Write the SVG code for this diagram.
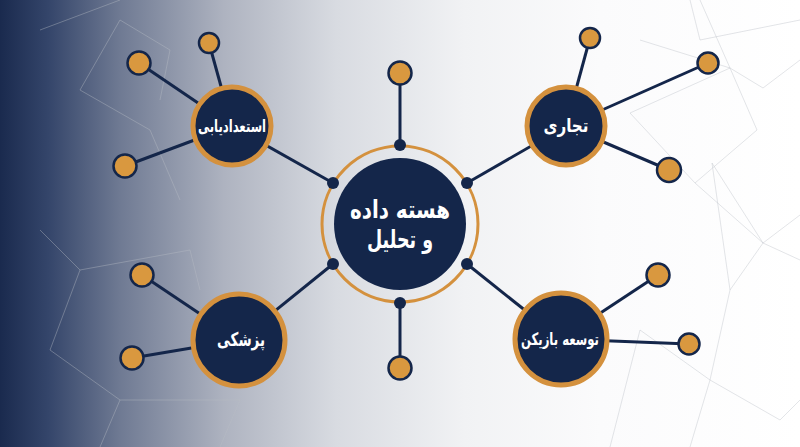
<svg xmlns="http://www.w3.org/2000/svg" width="800" height="447" viewBox="0 0 800 447">
<defs>
<linearGradient id="bg" x1="0" y1="0" x2="1" y2="0">
<stop offset="0" stop-color="#1a2a4e"/>
<stop offset="0.06" stop-color="#34456a"/>
<stop offset="0.15" stop-color="#6f7a93"/>
<stop offset="0.28" stop-color="#aeb3c0"/>
<stop offset="0.42" stop-color="#d8dbe1"/>
<stop offset="0.58" stop-color="#f1f2f4"/>
<stop offset="0.75" stop-color="#fbfbfc"/>
<stop offset="1" stop-color="#ffffff"/>
</linearGradient>
<style>
.bgl{stroke:#b9bdc6;stroke-opacity:0.4;stroke-width:1;fill:none}
.con{stroke:#14264a;stroke-width:3;fill:none}
.leaf{fill:#d9983f;stroke:#14264a;stroke-width:2.5}
.dot{fill:#14264a}
.node{fill:#14264a;stroke:#d4913e;stroke-width:5}
.lbl{font-family:"DejaVu Sans",sans-serif;font-weight:bold;fill:#ffffff;text-anchor:middle}
</style>
</defs>
<rect width="800" height="447" fill="url(#bg)"/>
<g id="background-lines">
<polyline class="bgl" points="630,113 730,68 763,88 800,60"/>
<polyline class="bgl" points="630,113 695,183 757,130 730,68"/>
<polyline class="bgl" points="695,183 763,243 800,215"/>
<polyline class="bgl" points="712,163 763,243 730,290 712,163"/>
<polyline class="bgl" points="640,40 730,68 700,0"/>
<polyline class="bgl" points="763,243 800,260"/>
<polyline class="bgl" points="730,290 710,380 780,420 800,400"/>
<polyline class="bgl" points="710,380 640,330 610,447"/>
<polyline class="bgl" points="710,380 690,447"/>
<polyline class="bgl" points="690,0 700,40 800,20"/>
<polyline class="bgl" points="40,30 120,0"/>
<polyline class="bgl" points="80,90 120,20 170,50 160,100"/>
<polyline class="bgl" points="80,90 150,130 180,200"/>
<polyline class="bgl" points="40,230 80,270 190,250 200,290"/>
<polyline class="bgl" points="80,270 50,350 120,400 240,400"/>
<polyline class="bgl" points="120,400 100,447"/>
<polyline class="bgl" points="240,400 220,447"/>
</g>
<g id="connectors">
<line class="con" x1="400" y1="73" x2="400" y2="145"/>
<line class="con" x1="400" y1="303" x2="400" y2="368"/>
<line class="con" x1="232" y1="126" x2="333" y2="183"/>
<line class="con" x1="566" y1="126" x2="467" y2="183"/>
<line class="con" x1="239" y1="340" x2="333" y2="264"/>
<line class="con" x1="561" y1="339" x2="467" y2="264"/>
<line class="con" x1="232" y1="126" x2="209" y2="43"/>
<line class="con" x1="232" y1="126" x2="139" y2="63"/>
<line class="con" x1="232" y1="126" x2="125" y2="166"/>
<line class="con" x1="566" y1="126" x2="590" y2="38"/>
<line class="con" x1="566" y1="126" x2="708" y2="63"/>
<line class="con" x1="566" y1="126" x2="669" y2="170"/>
<line class="con" x1="239" y1="340" x2="142" y2="275"/>
<line class="con" x1="239" y1="340" x2="132" y2="358"/>
<line class="con" x1="561" y1="339" x2="658" y2="275"/>
<line class="con" x1="561" y1="339" x2="689" y2="344"/>
</g>
<g id="leaves">
<circle class="leaf" cx="400" cy="73" r="11.5"/>
<circle class="leaf" cx="400" cy="368" r="11.5"/>
<circle class="leaf" cx="209" cy="43" r="10"/>
<circle class="leaf" cx="139" cy="63" r="11.5"/>
<circle class="leaf" cx="125" cy="166" r="11.5"/>
<circle class="leaf" cx="590" cy="38" r="10"/>
<circle class="leaf" cx="708" cy="63" r="10.5"/>
<circle class="leaf" cx="669" cy="170" r="12"/>
<circle class="leaf" cx="142" cy="275" r="11.5"/>
<circle class="leaf" cx="132" cy="358" r="11.5"/>
<circle class="leaf" cx="658" cy="275" r="11.5"/>
<circle class="leaf" cx="689" cy="344" r="10.5"/>
</g>
<g id="center">
<circle cx="400" cy="224" r="78" fill="none" stroke="#d4913e" stroke-width="3"/>
<circle cx="400" cy="224" r="66" fill="#14264a"/>
<circle class="dot" cx="400" cy="145" r="6"/>
<circle class="dot" cx="400" cy="303" r="6"/>
<circle class="dot" cx="333" cy="183" r="6"/>
<circle class="dot" cx="467" cy="183" r="6"/>
<circle class="dot" cx="333" cy="264" r="6"/>
<circle class="dot" cx="467" cy="264" r="6"/>
<text class="lbl" x="400" y="218" font-size="25" textLength="100" lengthAdjust="spacingAndGlyphs">هسته داده</text>
<text class="lbl" x="400" y="248" font-size="25" textLength="66" lengthAdjust="spacingAndGlyphs">و تحلیل</text>
</g>
<g id="node-estedadyabi">
<circle class="node" cx="232" cy="126" r="39"/>
<text class="lbl" x="232" y="132" font-size="17" textLength="68" lengthAdjust="spacingAndGlyphs">استعدادیابی</text>
</g>
<g id="node-tejari">
<circle class="node" cx="566" cy="126" r="39"/>
<text class="lbl" x="566" y="132" font-size="19" textLength="45" lengthAdjust="spacingAndGlyphs">تجاری</text>
</g>
<g id="node-pezeshki">
<circle class="node" cx="239" cy="340" r="46"/>
<text class="lbl" x="241" y="346" font-size="19" textLength="48" lengthAdjust="spacingAndGlyphs">پزشکی</text>
</g>
<g id="node-tosee">
<circle class="node" cx="561" cy="339" r="46"/>
<text class="lbl" x="560" y="345" font-size="17" textLength="78" lengthAdjust="spacingAndGlyphs">توسعه بازیکن</text>
</g>
</svg>
